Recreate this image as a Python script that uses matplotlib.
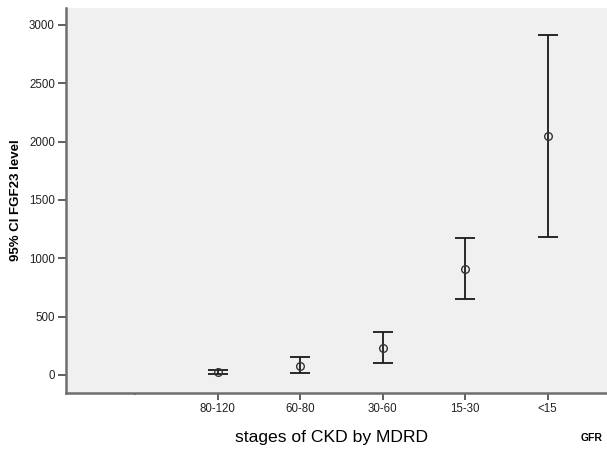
import matplotlib.pyplot as plt
import numpy as np

plt.rcParams['font.family'] = ['Liberation Sans', 'DejaVu Sans']

stages = ["80-120", "60-80", "30-60", "15-30", "<15"]
means = [25, 77, 234, 908, 2048]
lower = [9, 14, 100, 651, 1183]
upper = [40, 157, 366, 1174, 2914]
yticks = [0, 500, 1000, 1500, 2000, 2500, 3000]

fig = plt.figure(figsize=(6.07, 4.57), dpi=100)
ax = fig.add_axes([0.1087, 0.140, 0.8913, 0.8425])
ax.set_facecolor('#f0f0f0')

x = np.arange(1, len(stages) + 1)
m = np.array(means)
err = np.vstack([m - np.array(lower), np.array(upper) - m])
ax.errorbar(x, m, yerr=err, fmt='none', ecolor='#1a1a1a', elinewidth=1.3,
            capsize=7.5, capthick=1.3)
ax.plot(x, m, 'o', mfc='none', mec='#333333', ms=5.5, mew=1.0)

ax.set_xlim(-0.84, 5.72)
ax.set_ylim(-155, 3145)
ax.set_xticks(x)
ax.set_xticklabels(stages, fontsize=8.3, color='#222222')
ax.set_xticks([0], minor=True)
ax.tick_params(axis='x', which='minor', length=1.5, width=1.2, color='#444444')
ax.set_yticks(yticks)
ax.set_yticklabels([str(v) for v in yticks], fontsize=8.3, color='#222222')

for s in ['top', 'right']:
    ax.spines[s].set_visible(False)
for s in ['left', 'bottom']:
    ax.spines[s].set_color('#6e6e6e')
    ax.spines[s].set_linewidth(1.8)
ax.tick_params(axis='both', which='major', color='#444444', length=5, width=1.2, pad=2)
ax.tick_params(axis='y', length=6)

ax.set_ylabel("95% CI FGF23 level", fontsize=9.5, fontweight='bold', labelpad=5)
ax.set_xlabel("stages of CKD by MDRD", fontsize=12.6)
ax.xaxis.set_label_coords(0.49, -0.095)
fig.text(0.975, 0.042, "GFR", fontsize=7.5, fontweight='bold', ha='center', va='center')

fig.savefig("out.png", dpi=100, facecolor='white')
